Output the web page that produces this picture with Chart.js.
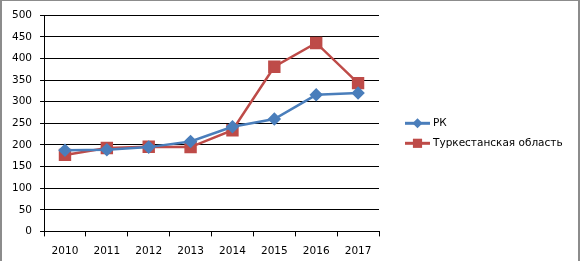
<!doctype html>
<html lang="ru">

<head>
    <meta charset="utf-8">
    <title>РК и Туркестанская область</title>
    <script src="https://cdn.jsdelivr.net/npm/chart.js"></script>
    <style>
        html, body { margin: 0; padding: 0; background: #fff; overflow: hidden; }
        .frame {
            position: absolute; left: 0; top: 0;
            width: 576px; height: 280px;
            border-left: 2px solid #8c8c8c;
            border-top: 1px solid #8c8c8c;
            border-right: 2px solid #8c8c8c;
        }
        .chartBox { width: 576px; height: 270px; }
    </style>
</head>

<body>
    <div class="frame">
        <div class="chartBox"><canvas id="myChart"></canvas></div>
    </div>

    <script>
        // setup
        const years = ['2010', '2011', '2012', '2013', '2014', '2015', '2016', '2017'];
        const rk = [188, 189, 195, 208, 242, 260, 316, 320];
        const turkestan = [177, 193, 196, 195, 234, 381, 436, 343];
        const seriesNames = ['РК', 'Туркестанская область'];
        const yTicks = { min: 0, max: 500, step: 50 };

        const blue = '#4a7ebb';
        const red = '#be4b48';
        const font = { family: 'DejaVu Sans', size: 10.5 };

        // legend to the right of the plot: line sample with marker, then the name
        const sideLegend = {
            id: 'sideLegend',
            afterDraw(chart) {
                const ctx = chart.ctx;
                const x0 = chart.chartArea.right + 26;
                let y = chart.chartArea.top + 108;
                ctx.save();
                ctx.font = font.size + 'px "' + font.family + '"';
                ctx.textBaseline = 'middle';
                chart.data.datasets.forEach(ds => {
                    ctx.strokeStyle = ds.borderColor;
                    ctx.fillStyle = ds.borderColor;
                    ctx.lineWidth = 3;
                    ctx.beginPath(); ctx.moveTo(x0, y); ctx.lineTo(x0 + 25, y); ctx.stroke();
                    Chart.helpers.drawPoint(ctx, {
                        pointStyle: ds.pointStyle,
                        radius: ds.pointStyle === 'rect' ? 6.5 : 5,
                        borderWidth: 0
                    }, x0 + 12.5, y);
                    ctx.fillStyle = '#000';
                    ctx.fillText(ds.label, x0 + 28, y);
                    y += 20;
                });
                ctx.restore();
            }
        };

        const data = {
            labels: years,
            datasets: [{
                label: seriesNames[0],
                data: rk,
                borderColor: blue,
                backgroundColor: blue,
                borderWidth: 2.5,
                pointStyle: 'rectRot',
                pointRadius: 5,
                pointHoverRadius: 5
            }, {
                label: seriesNames[1],
                data: turkestan,
                borderColor: red,
                backgroundColor: red,
                borderWidth: 2.5,
                pointStyle: 'rect',
                pointRadius: 7,
                pointHoverRadius: 7
            }]
        };

        // config
        const config = {
            type: 'line',
            data,
            plugins: [sideLegend],
            options: {
                responsive: true,
                maintainAspectRatio: false,
                animation: false,
                layout: { padding: { left: 2, top: 8, right: 199, bottom: 4 } },
                plugins: {
                    tooltip: { enabled: false },
                    legend: { display: false }
                },
                scales: {
                    x: {
                        offset: true,
                        grid: { offset: true, drawOnChartArea: false, color: '#000', tickLength: 5 },
                        border: { color: '#000', width: 1 },
                        ticks: { color: '#000', font, padding: 9, maxRotation: 0 }
                    },
                    y: {
                        min: yTicks.min,
                        max: yTicks.max,
                        grid: { color: '#000', lineWidth: 1, tickLength: 4 },
                        border: { color: '#000', width: 1 },
                        ticks: { stepSize: yTicks.step, color: '#000', font, padding: 8 }
                    }
                }
            }
        };

        // render init block
        const myChart = new Chart(document.getElementById('myChart'), config);
    </script>
</body>

</html>
